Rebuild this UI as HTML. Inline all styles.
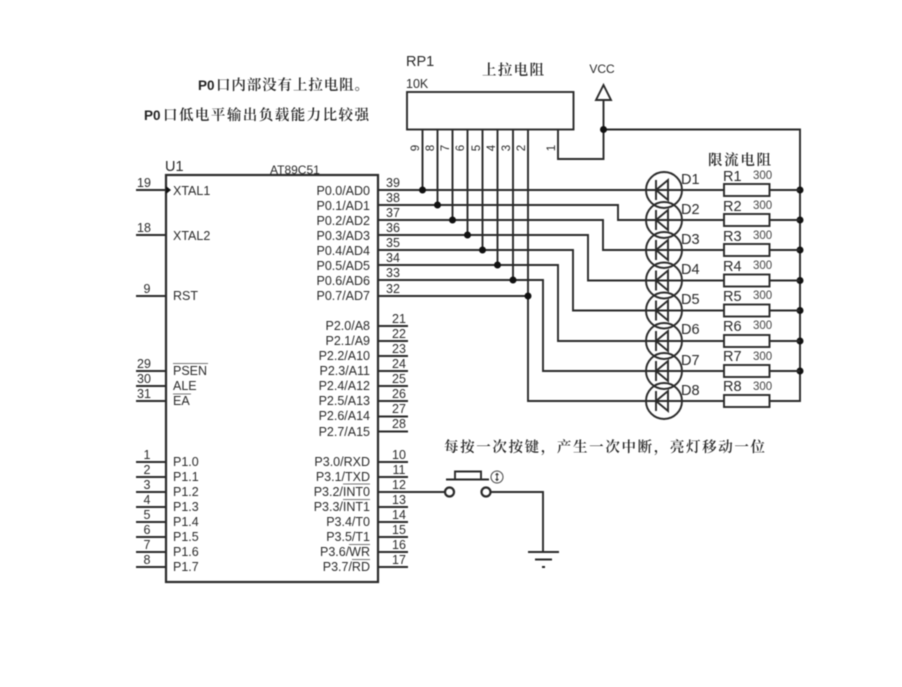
<!DOCTYPE html>
<html lang="zh"><head><meta charset="utf-8"><title>P0 LED circuit</title>
<style>
html,body{margin:0;padding:0;background:#fff;width:902px;height:687px;overflow:hidden}
svg{display:block;filter:blur(.45px)}
text{font-family:"Liberation Sans",Arial,sans-serif;font-size:12.5px;fill:#2a2a2a}
.r{text-anchor:end}
.m{text-anchor:middle}
.c{font-family:"Noto Serif CJK SC","Liberation Serif",serif;font-size:14.5px;fill:#222;font-weight:600}
.b{font-weight:700;font-size:13.5px;fill:#222}
.v{font-size:11.5px}
.L{font-size:14.5px}
.s{font-size:11.5px;fill:#444}
.w{fill:none;stroke:#2a2a2a;stroke-width:1.9}
.o{fill:none;stroke:#777;stroke-width:1}
.d{fill:#111}
</style></head><body>
<svg width="902" height="687" viewBox="0 0 902 687" xmlns="http://www.w3.org/2000/svg">
<!-- Notes -->
<text x="198" y="90" class="b">P0</text><text x="216" y="90" class="c" textLength="153" lengthAdjust="spacing">口内部没有上拉电阻。</text>
<text x="144" y="120" class="b">P0</text><text x="163" y="120" class="c" textLength="206" lengthAdjust="spacing">口低电平输出负载能力比较强</text>
<text x="482" y="75" class="c" textLength="62" lengthAdjust="spacing">上拉电阻</text>
<text x="708" y="165" class="c" textLength="63" lengthAdjust="spacing">限流电阻</text>
<text x="444" y="452" class="c" textLength="321" lengthAdjust="spacing">每按一次按键，产生一次中断，亮灯移动一位</text>

<!-- Chip -->
<rect x="166" y="175" width="212" height="407" class="w" style="stroke-width:2.2"/>
<text x="165" y="171" class="L">U1</text>
<text x="270" y="174" style="font-size:12px">AT89C51</text>
<path class="w" d="M136 190H166M136 235H166M136 296H166M136 371H166M136 386H166M136 401H166M136 462H166M136 477H166M136 492H166M136 507H166M136 522H166M136 537H166M136 552H166M136 567H166"/>
<path class="d" d="M166 186L171 190L166 194Z"/>
<path class="w" d="M378 326H408M378 341H408M378 356H408M378 371H408M378 386H408M378 401H408M378 416.500H408M378 431.500H408M378 462H408M378 477H408M378 507H408M378 522H408M378 537H408M378 552H408M378 567H408"/>

<text x="173" y="195">XTAL1</text><text x="173" y="240">XTAL2</text><text x="173" y="300">RST</text>
<text x="173" y="375">PSEN</text><text x="173" y="390">ALE</text><text x="173" y="405">EA</text>
<path class="o" d="M173 363.500H208M173 394H191"/>
<text x="173" y="466">P1.0</text><text x="173" y="481">P1.1</text><text x="173" y="496">P1.2</text><text x="173" y="511">P1.3</text><text x="173" y="526">P1.4</text><text x="173" y="541">P1.5</text><text x="173" y="556">P1.6</text><text x="173" y="571">P1.7</text>

<g>
<text x="144" y="187" class="m">19</text><text x="144" y="232" class="m">18</text><text x="147" y="293" class="m">9</text>
<text x="144" y="368" class="m">29</text><text x="144" y="383" class="m">30</text><text x="144" y="398" class="m">31</text>
<text x="147" y="459" class="m">1</text><text x="147" y="474" class="m">2</text><text x="147" y="489" class="m">3</text><text x="147" y="504" class="m">4</text><text x="147" y="519" class="m">5</text><text x="147" y="534" class="m">6</text><text x="147" y="549" class="m">7</text><text x="147" y="564" class="m">8</text>
</g>

<text x="370" y="195" class="r">P0.0/AD0</text><text x="370" y="210" class="r">P0.1/AD1</text><text x="370" y="225" class="r">P0.2/AD2</text><text x="370" y="240" class="r">P0.3/AD3</text><text x="370" y="255" class="r">P0.4/AD4</text><text x="370" y="270" class="r">P0.5/AD5</text><text x="370" y="285" class="r">P0.6/AD6</text><text x="370" y="300" class="r">P0.7/AD7</text>
<text x="370" y="330" class="r">P2.0/A8</text><text x="370" y="345" class="r">P2.1/A9</text><text x="370" y="360" class="r">P2.2/A10</text><text x="370" y="375" class="r">P2.3/A11</text><text x="370" y="390" class="r">P2.4/A12</text><text x="370" y="405" class="r">P2.5/A13</text><text x="370" y="420" class="r">P2.6/A14</text><text x="370" y="436" class="r">P2.7/A15</text>
<text x="370" y="466" class="r">P3.0/RXD</text><text x="370" y="481" class="r">P3.1/TXD</text><text x="370" y="496" class="r">P3.2/INT0</text><text x="370" y="511" class="r">P3.3/INT1</text><text x="370" y="526" class="r">P3.4/T0</text><text x="370" y="541" class="r">P3.5/T1</text><text x="370" y="556" class="r">P3.6/WR</text><text x="370" y="571" class="r">P3.7/RD</text>
<path class="o" d="M343 484H370M343 499.500H370M349 544.500H370M352 559.500H370"/>

<text x="393" y="187" class="m">39</text><text x="393" y="202" class="m">38</text><text x="393" y="217" class="m">37</text><text x="393" y="232" class="m">36</text><text x="393" y="247" class="m">35</text><text x="393" y="262" class="m">34</text><text x="393" y="277" class="m">33</text><text x="393" y="293" class="m">32</text>
<text x="399" y="323" class="m">21</text><text x="399" y="338" class="m">22</text><text x="399" y="353" class="m">23</text><text x="399" y="368" class="m">24</text><text x="399" y="383" class="m">25</text><text x="399" y="398" class="m">26</text><text x="399" y="413" class="m">27</text><text x="399" y="428" class="m">28</text>
<text x="399" y="459" class="m">10</text><text x="399" y="474" class="m">11</text><text x="399" y="489" class="m">12</text><text x="399" y="504" class="m">13</text><text x="399" y="519" class="m">14</text><text x="399" y="534" class="m">15</text><text x="399" y="549" class="m">16</text><text x="399" y="564" class="m">17</text>

<!-- RP1 -->
<text x="406" y="66" class="L">RP1</text>
<text x="406" y="88">10K</text>
<rect x="407" y="92" width="166.500" height="37.500" class="w"/>
<text transform="translate(419,148) rotate(-90)" class="m v">9</text>
<text transform="translate(434,148) rotate(-90)" class="m v">8</text>
<text transform="translate(449,148) rotate(-90)" class="m v">7</text>
<text transform="translate(464,148) rotate(-90)" class="m v">6</text>
<text transform="translate(480,148) rotate(-90)" class="m v">5</text>
<text transform="translate(495,148) rotate(-90)" class="m v">4</text>
<text transform="translate(510,148) rotate(-90)" class="m v">3</text>
<text transform="translate(525,148) rotate(-90)" class="m v">2</text>
<text transform="translate(555,148) rotate(-90)" class="m v">1</text>
<path class="w" d="M422.500 129.500V190M437.500 129.500V205M452.500 129.500V220M467.500 129.500V235M482.500 129.500V250M497.500 129.500V265M513 129.500V280M528 129.500V401H646"/>
<path class="w" d="M558 129.500V159H603.500V100M603.500 129.500H800V401H770"/>
<path class="w" d="M603.500 85L611 100H596Z"/>
<text x="602" y="73" class="m" style="font-size:12px">VCC</text>

<!-- Port routes -->
<path class="w" d="M378 190H646M378 205H618V220H646M378 220H603V250H646M378 235H588V280.500H646M378 250H573V310.500H646M378 265H558V341H646M378 280H543V371H646M378 296H528"/>
<g class="d">
<circle cx="422.500" cy="190" r="3.500"/><circle cx="437.500" cy="205" r="3.500"/><circle cx="452.500" cy="220" r="3.500"/><circle cx="467.500" cy="235" r="3.500"/><circle cx="482.500" cy="250" r="3.500"/><circle cx="497.500" cy="265" r="3.500"/><circle cx="513" cy="280" r="3.500"/><circle cx="528" cy="296" r="3.500"/>
<circle cx="603.500" cy="129.500" r="3.500"/>
<circle cx="800" cy="190" r="3.500"/><circle cx="800" cy="220" r="3.500"/><circle cx="800" cy="250" r="3.500"/><circle cx="800" cy="280.500" r="3.500"/><circle cx="800" cy="310.500" r="3.500"/><circle cx="800" cy="341" r="3.500"/><circle cx="800" cy="371" r="3.500"/>
</g>

<!-- LEDs -->
<g class="w">
<circle cx="664" cy="190" r="18"/><circle cx="664" cy="220" r="18"/><circle cx="664" cy="250" r="18"/><circle cx="664" cy="280.500" r="18"/><circle cx="664" cy="310.500" r="18"/><circle cx="664" cy="341" r="18"/><circle cx="664" cy="371" r="18"/><circle cx="664" cy="401" r="18"/>
<path d="M646 190H724M646 220H724M646 250H724M646 280.500H724M646 310.500H724M646 341H724M646 371H724M646 401H724"/>
<path d="M656 180V200M668 180V200L656 190Z"/>
<path d="M656 210V230M668 210V230L656 220Z"/>
<path d="M656 240V260M668 240V260L656 250Z"/>
<path d="M656 270.500V290.500M668 270.500V290.500L656 280.500Z"/>
<path d="M656 300.500V320.500M668 300.500V320.500L656 310.500Z"/>
<path d="M656 331V351M668 331V351L656 341Z"/>
<path d="M656 361V381M668 361V381L656 371Z"/>
<path d="M656 391V411M668 391V411L656 401Z"/>
</g>
<text x="681" y="184" class="L">D1</text><text x="681" y="214" class="L">D2</text><text x="681" y="244" class="L">D3</text><text x="681" y="274" class="L">D4</text><text x="681" y="304" class="L">D5</text><text x="681" y="334" class="L">D6</text><text x="681" y="365" class="L">D7</text><text x="681" y="395" class="L">D8</text>

<!-- Resistors -->
<g class="w">
<rect x="724" y="184" width="45.500" height="12" style="fill:#fff"/><rect x="724" y="214" width="45.500" height="12" style="fill:#fff"/><rect x="724" y="244" width="45.500" height="12" style="fill:#fff"/><rect x="724" y="274.500" width="45.500" height="12" style="fill:#fff"/><rect x="724" y="304.500" width="45.500" height="12" style="fill:#fff"/><rect x="724" y="335" width="45.500" height="12" style="fill:#fff"/><rect x="724" y="365" width="45.500" height="12" style="fill:#fff"/><rect x="724" y="395" width="45.500" height="12" style="fill:#fff"/>
<path d="M769.500 190H800M769.500 220H800M769.500 250H800M769.500 280.500H800M769.500 310.500H800M769.500 341H800M769.500 371H800"/>
</g>
<text x="723" y="181" class="L">R1</text><text x="723" y="211" class="L">R2</text><text x="723" y="241" class="L">R3</text><text x="723" y="271" class="L">R4</text><text x="723" y="301" class="L">R5</text><text x="723" y="331" class="L">R6</text><text x="723" y="361" class="L">R7</text><text x="723" y="391" class="L">R8</text>
<text x="753" y="179" class="s">300</text><text x="753" y="209" class="s">300</text><text x="753" y="239" class="s">300</text><text x="753" y="269" class="s">300</text><text x="753" y="299" class="s">300</text><text x="753" y="329" class="s">300</text><text x="753" y="360" class="s">300</text><text x="753" y="390" class="s">300</text>

<!-- Switch and ground -->
<path class="w" d="M378 492H445M490.500 492H543V552M528 552H559M535 559.500H552M446 479.500H489M455 479.500V471.500H481V479.500"/>
<path d="M542 567H545" stroke="#222" stroke-width="2"/>
<circle cx="449.500" cy="492" r="4.500" class="w" style="stroke-width:2.2"/>
<circle cx="486" cy="492" r="4.500" class="w" style="stroke-width:2.2"/>
<circle cx="497" cy="477" r="6" fill="none" stroke="#444" stroke-width="1"/>
<path d="M497 473.500V480.500M495.500 475L497 473.500L498.500 475M495.500 479L497 480.500L498.500 479" fill="none" stroke="#333" stroke-width="1"/>
</svg>
</body></html>
